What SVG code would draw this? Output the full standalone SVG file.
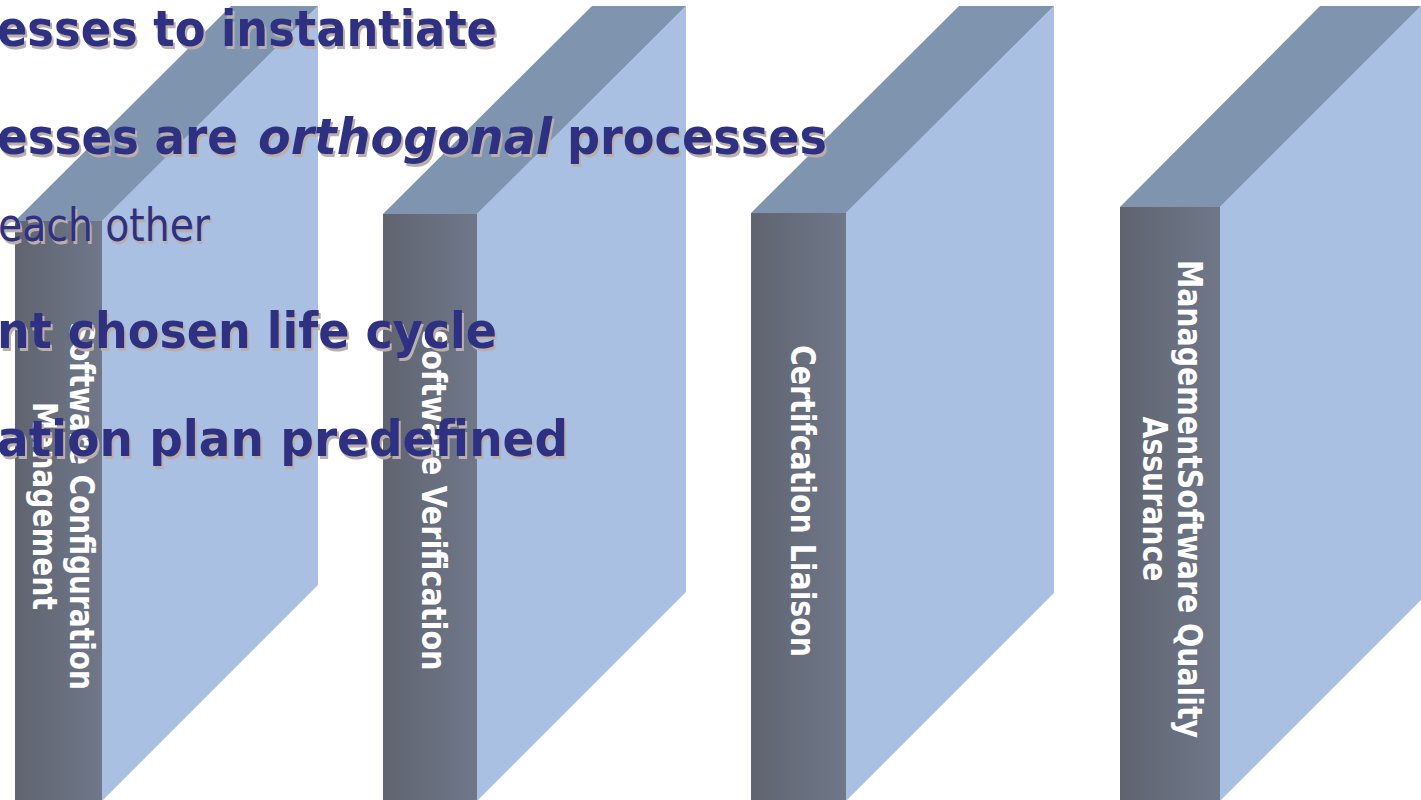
<svg xmlns="http://www.w3.org/2000/svg" xmlns:xlink="http://www.w3.org/1999/xlink" width="1421" height="800" viewBox="0 0 1421 800">
  <style>
    .front { fill: url(#frontShade); }
    .top { fill: #7f94ae; }
    .side { fill: #a9c0e2; }
    .lbl { font-family: "DejaVu Sans Condensed", "DejaVu Sans", sans-serif; font-weight: bold; font-size: 34px; fill: #ffffff; }
    .big { font-family: "DejaVu Sans Condensed", "DejaVu Sans", sans-serif; font-weight: bold; font-size: 50px; }
    .reg { font-family: "DejaVu Sans Condensed", "DejaVu Sans", sans-serif; font-weight: normal; font-size: 47px; }
    .ital { font-style: italic; }
    .ink { fill: #2e3182; }
    .shade { fill: #bcafab; }
  </style>
  <defs>
    <linearGradient id="frontShade" x1="0" y1="0" x2="1" y2="0">
      <stop offset="0" stop-color="#5f646f"/>
      <stop offset="1" stop-color="#6f7789"/>
    </linearGradient>
    <!-- bullet text lines, drawn twice: soft shadow then ink -->
    <g id="lines">
      <text class="big" x="497" y="46" text-anchor="end" textLength="500" lengthAdjust="spacingAndGlyphs">esses to instantiate</text>
      <text class="big" x="-3" y="154" textLength="241" lengthAdjust="spacingAndGlyphs">esses are</text>
      <text class="big ital" x="258" y="154" textLength="294" lengthAdjust="spacingAndGlyphs">orthogonal</text>
      <text class="big" x="567" y="154" textLength="260" lengthAdjust="spacingAndGlyphs">processes</text>
      <text class="reg" x="-2" y="241" textLength="212" lengthAdjust="spacingAndGlyphs">each other</text>
      <text class="big" x="497" y="348" text-anchor="end" textLength="500" lengthAdjust="spacingAndGlyphs">nt chosen life cycle</text>
      <text class="big" x="568" y="456" text-anchor="end" textLength="571" lengthAdjust="spacingAndGlyphs">ation plan predefined</text>
    </g>
  </defs>

  <rect width="1421" height="800" fill="#ffffff"/>

  <!-- process slab: configuration management -->
  <g id="slab-config">
    <polygon class="side" points="102,221 318,6 318,585 102,801"/>
    <polygon class="top" points="15,221 102,221 318,6 231,6"/>
    <rect class="front" x="15" y="221" width="87" height="580"/>
    <g class="lbl" transform="translate(70,506) rotate(90)">
      <text x="0" y="0" text-anchor="middle" textLength="368" lengthAdjust="spacingAndGlyphs">Software Configuration</text>
      <text x="0" y="37" text-anchor="middle" textLength="208" lengthAdjust="spacingAndGlyphs">Management</text>
    </g>
  </g>

  <!-- process slab: verification -->
  <g id="slab-verification">
    <polygon class="side" points="477,214 686,6 686,592 477,801"/>
    <polygon class="top" points="383,214 477,214 686,6 592,6"/>
    <rect class="front" x="383" y="214" width="94" height="587"/>
    <g class="lbl" transform="translate(422,500) rotate(90)">
      <text x="0" y="0" text-anchor="middle" textLength="341" lengthAdjust="spacingAndGlyphs">Software Verification</text>
    </g>
  </g>

  <!-- process slab: certification liaison -->
  <g id="slab-liaison">
    <polygon class="side" points="846,213 1054,6 1054,593 846,801"/>
    <polygon class="top" points="751,213 846,213 1054,6 959,6"/>
    <rect class="front" x="751" y="213" width="95" height="588"/>
    <g class="lbl" transform="translate(791,501) rotate(90)">
      <text x="0" y="0" text-anchor="middle" textLength="312" lengthAdjust="spacingAndGlyphs">Certifcation Liaison</text>
    </g>
  </g>

  <!-- process slab: quality assurance -->
  <g id="slab-quality">
    <polygon class="side" points="1220,207 1421,6 1421,600 1220,801"/>
    <polygon class="top" points="1120,207 1220,207 1421,6 1320,6"/>
    <rect class="front" x="1120" y="207" width="100" height="594"/>
    <g class="lbl" transform="translate(1178,499) rotate(90)">
      <text x="0" y="0" text-anchor="middle" textLength="478" lengthAdjust="spacingAndGlyphs">ManagementSoftware Quality</text>
      <text x="0" y="35" text-anchor="middle" textLength="165" lengthAdjust="spacingAndGlyphs">Assurance</text>
    </g>
  </g>

  <!-- bullet text over the slabs -->
  <g id="bullets">
    <use xlink:href="#lines" class="shade" transform="translate(2,3)"/>
    <use xlink:href="#lines" class="ink"/>
  </g>
</svg>
